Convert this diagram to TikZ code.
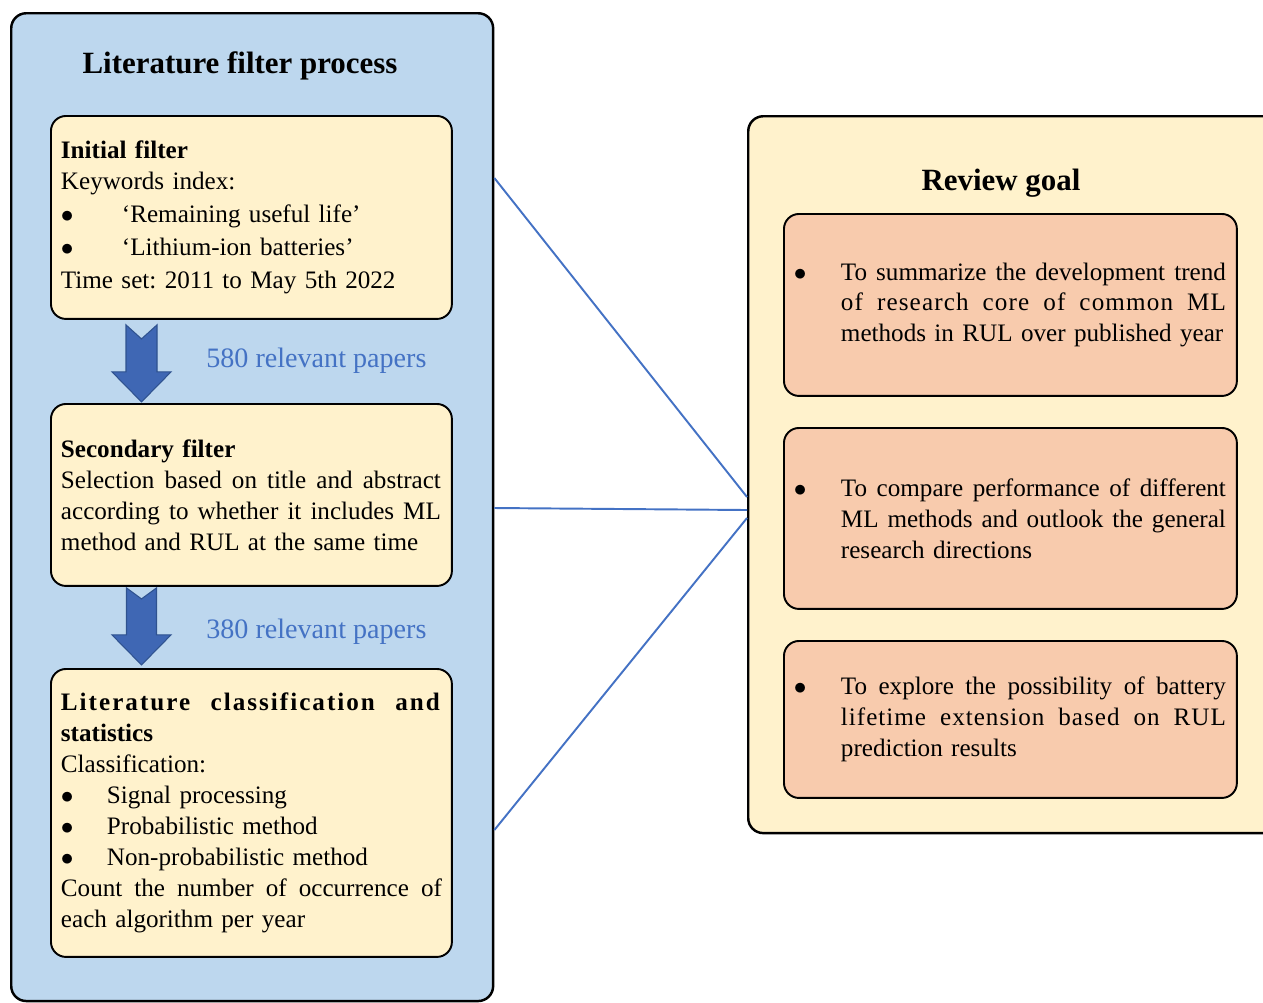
\documentclass[tikz,border=0pt]{standalone}
\usepackage{fontspec}
\setmainfont{Liberation Serif}
\usepackage{tikz}
\usetikzlibrary{calc,positioning}
\definecolor{panelblue}{RGB}{189,215,238}
\definecolor{boxyellow}{RGB}{255,242,204}
\definecolor{goalorange}{RGB}{248,203,173}
\definecolor{linkblue}{RGB}{68,114,196}
\definecolor{arrowblue}{RGB}{63,103,180}
\definecolor{arrowedge}{RGB}{47,82,143}
\newcommand{\fullline}[2]{\leavevmode\hbox to #1{\spaceskip=0.25em plus 1fil\relax #2}}
\tikzstyle{panel} = [draw, line width=1.4pt, rounded corners=0.3cm, rectangle, anchor=north west, inner sep=0pt]
\tikzstyle{box} = [draw, line width=1.1pt, rounded corners=0.3cm, rectangle, anchor=north west, fill=boxyellow,
    inner xsep=0.2cm, text width=7.62cm, minimum width=8.02cm, align=left, font=\fontsize{14.3}{17.6}\selectfont\frenchspacing]
\tikzstyle{goalbox} = [box, fill=goalorange, text width=8.66cm, minimum width=9.06cm]
\tikzstyle{heading} = [font=\fontsize{17.6}{20}\selectfont\bfseries, anchor=base]
\tikzstyle{count} = [text=linkblue, font=\fontsize{16}{18}\selectfont, anchor=base west, inner sep=0pt]
\tikzstyle{blockarrow} = [fill=arrowblue, draw=arrowedge, line width=0.6pt]
\tikzstyle{link} = [draw=linkblue, line width=1.1pt]

\begin{document}
\begin{tikzpicture}[x=0.02cm,y=-0.02cm]
\useasboundingbox (0,0) rectangle (1263,1002);

%% Panels %%
\node [panel, fill=panelblue, minimum width=9.64cm, minimum height=19.76cm] (FilterPanel) at (10,12) {};
\node [panel, fill=boxyellow, minimum width=10.86cm, minimum height=14.34cm] (GoalPanel) at (747,115) {};
\node [heading] (FilterTitle) at (240,73) {Literature filter process};
\node [heading] (GoalTitle) at (1001,190) {Review goal};

%% Filter steps %%
\node [box, minimum height=4.06cm] (InitialFilter) at (50,115) {\textbf{Initial filter}\\
Keywords index:\\[1.1pt]
\makebox[1.22cm][l]{$\bullet$}‘Remaining useful life’\\[1.1pt]
\makebox[1.22cm][l]{$\bullet$}‘Lithium-ion batteries’\\[1.1pt]
Time set: 2011 to May 5th 2022};
\node [box, minimum height=3.64cm] (SecondaryFilter) at (50,403) {\textbf{Secondary filter}\\
\fullline{7.6cm}{Selection based on title and abstract}\\
\fullline{7.6cm}{according to whether it includes ML}\\
method and RUL at the same time};
\node [box, minimum height=5.76cm] (Classification) at (50,668) {\fullline{7.62cm}{\textbf{\addfontfeature{LetterSpace=8}Literature classification and}}\\
\textbf{statistics}\\
Classification:\\
\makebox[0.92cm][l]{$\bullet$}Signal processing\\
\makebox[0.92cm][l]{$\bullet$}Probabilistic method\\
\makebox[0.92cm][l]{$\bullet$}Non-probabilistic method\\
\fullline{7.62cm}{Count the number of occurrence of}\\
each algorithm per year};

%% Block arrows %%
\draw[blockarrow] ($(InitialFilter.south west)+(76,5)$) -- ++(15.5,14) -- ++(15.5,-14) -- ++(0,47) -- ++(14,0) -- ++(-29.5,30) -- ++(-29.5,-30) -- ++(14,0) -- cycle;
\draw[blockarrow] ($(SecondaryFilter.south west)+(76.5,1)$) -- ++(15,11) -- ++(15,-11) -- ++(0,47) -- ++(14.5,0) -- ++(-29.5,30) -- ++(-29.5,-30) -- ++(14.5,0) -- cycle;
\node [count] (Count580) at (206,367) {580 relevant papers};
\node [count] (Count380) at (206,638) {380 relevant papers};

%% Goals %%
\node [goalbox, minimum height=3.64cm] (Goal1) at (783,213) {\makebox[0.94cm][l]{$\bullet$}\fullline{7.7cm}{To summarize the development trend}\\
\hspace*{0.94cm}\fullline{7.7cm}{\addfontfeature{LetterSpace=4.5}of research core of common ML}\\
\hspace*{0.94cm}methods in RUL over published year};
\node [goalbox, minimum height=3.62cm] (Goal2) at (783,427) {\makebox[0.94cm][l]{$\bullet$}\fullline{7.7cm}{To compare performance of different}\\
\hspace*{0.94cm}\fullline{7.7cm}{ML methods and outlook the general}\\
\hspace*{0.94cm}research directions};
\node [goalbox, minimum height=3.14cm] (Goal3) at (783,640) {\makebox[0.94cm][l]{$\bullet$}\fullline{7.7cm}{To explore the possibility of battery}\\
\hspace*{0.94cm}\fullline{7.7cm}{\addfontfeature{LetterSpace=4}lifetime extension based on RUL}\\
\hspace*{0.94cm}prediction results};

%% Links %%
\coordinate (FilterOut1) at ($(FilterPanel.north east)+(0,166)$);
\coordinate (FilterOut2) at ($(FilterPanel.north east)+(0,496)$);
\coordinate (FilterOut3) at ($(FilterPanel.north east)+(0,818)$);
\coordinate (GoalIn1) at ($(GoalPanel.north west)+(0,382)$);
\coordinate (GoalIn2) at ($(GoalPanel.north west)+(0,395)$);
\coordinate (GoalIn3) at ($(GoalPanel.north west)+(0,403)$);
\draw[link] (FilterOut1) -- (GoalIn1);
\draw[link] (FilterOut2) -- (GoalIn2);
\draw[link] (FilterOut3) -- (GoalIn3);

\end{tikzpicture}
\end{document}
